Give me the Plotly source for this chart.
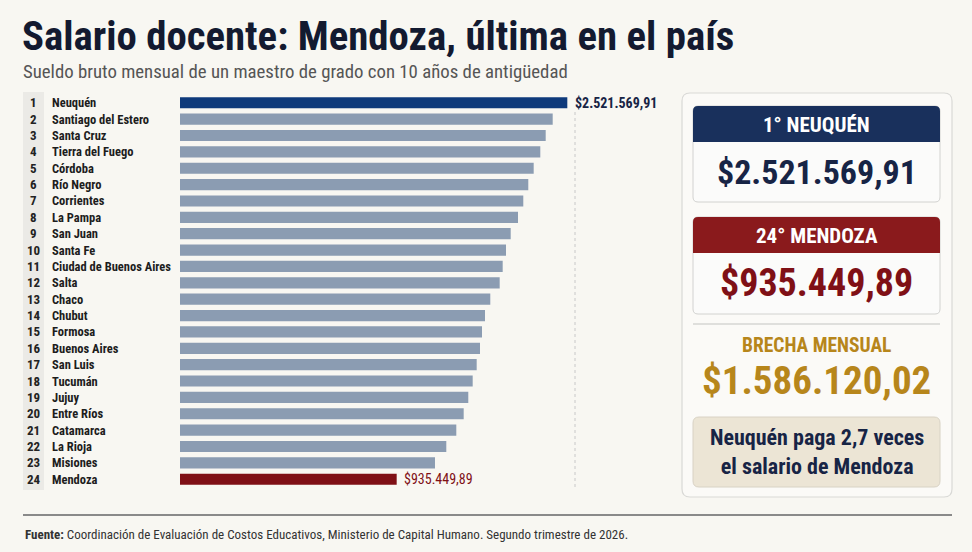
import plotly.graph_objects as go

# ---------------- data ----------------
ranks = list(range(1, 25))
provinces = ["Neuquén", "Santiago del Estero", "Santa Cruz", "Tierra del Fuego", "Córdoba",
             "Río Negro", "Corrientes", "La Pampa", "San Juan", "Santa Fe",
             "Ciudad de Buenos Aires", "Salta", "Chaco", "Chubut", "Formosa",
             "Buenos Aires", "San Luis", "Tucumán", "Jujuy", "Entre Ríos",
             "Catamarca", "La Rioja", "Misiones", "Mendoza"]
salaries = [2521569.91, 2385800, 2320700, 2270500, 2209100, 2158900, 2112400, 2063200,
            1995300, 1951600, 1920900, 1893000, 1805600, 1756400, 1728500, 1709900,
            1679200, 1642000, 1601100, 1558300, 1489600, 1396600, 1291500, 935449.89]
ratio_text = "2,7"

# ---------------- style ----------------
W, H = 972, 552
BG = "#f8f7f2"
NAVY = "#172445"
NAVY_BAR = "#0e3a7b"
GREY_BAR = "#8b9cb2"
RED = "#7f1016"
RED_HDR = "#8a1a1c"
NAVY_HDR = "#19305c"
GOLD = "#b7861b"
FONT = "Roboto Condensed"

X0, X1 = -1079000, 2593100  # axis range (left edge = bar base)


def fmt(v):
    s = f"{v:,.2f}"
    return "$" + s.replace(",", "X").replace(".", ",").replace("X", ".")


def px(x):
    return x / W


def py(y):
    return 1 - y / H


def rrect(x0, y0, x1, y1, r, top=True, bottom=True):
    rx, ry = r / W, r / H
    a0, b0, a1, b1 = px(x0), py(y0), px(x1), py(y1)
    rt = 1 if top else 0
    rb = 1 if bottom else 0
    p = f"M {a0 + rx*rt} {b0} L {a1 - rx*rt} {b0} Q {a1} {b0} {a1} {b0 - ry*rt} "
    p += f"L {a1} {b1 + ry*rb} Q {a1} {b1} {a1 - rx*rb} {b1} "
    p += f"L {a0 + rx*rb} {b1} Q {a0} {b1} {a0} {b1 + ry*rb} "
    p += f"L {a0} {b0 - ry*rt} Q {a0} {b0} {a0 + rx*rt} {b0} Z"
    return p


colors = [NAVY_BAR] + [GREY_BAR] * (len(salaries) - 2) + [RED]

fig = go.Figure()
fig.add_trace(go.Bar(
    y=provinces, x=[s - X0 for s in salaries], base=X0, orientation="h",
    marker=dict(color=colors, line=dict(width=0)), width=0.68,
    hoverinfo="skip", showlegend=False,
))

shapes = []
annotations = []

# rank column background
shapes.append(dict(type="rect", xref="paper", yref="paper", x0=px(23), x1=px(44),
                   y0=py(92), y1=py(490), fillcolor="#ebeae6", line=dict(width=0), layer="below"))
# dotted guide
shapes.append(dict(type="line", xref="paper", yref="paper", x0=px(575), x1=px(575),
                   y0=py(112), y1=py(488), line=dict(color="#c8c8c8", width=1, dash="dot")))

for r, p in zip(ranks, provinces):
    annotations.append(dict(x=px(33.5), y=p, xref="paper", yref="y", text=f"<b>{r}</b>",
                            showarrow=False, xanchor="center", yanchor="middle",
                            font=dict(family=FONT, size=13, color="#222222")))
    annotations.append(dict(x=px(50), y=p, xref="paper", yref="y", text=f"<b>{p}</b>",
                            showarrow=False, xanchor="left", yanchor="middle",
                            font=dict(family=FONT, size=12.5, color="#1d1d1d")))

# value labels
annotations.append(dict(x=salaries[0], y=provinces[0], xref="x", yref="y", text=f"<b>{fmt(salaries[0])}</b>",
                        showarrow=False, xanchor="left", yanchor="middle", xshift=6,
                        font=dict(family=FONT, size=14, color=NAVY)))
annotations.append(dict(x=salaries[-1], y=provinces[-1], xref="x", yref="y", text=fmt(salaries[-1]),
                        showarrow=False, xanchor="left", yanchor="middle", xshift=5,
                        font=dict(family=FONT, size=14, color=RED)))

# title, subtitle
annotations.append(dict(x=px(20), y=py(36), xref="paper", yref="paper",
                        text="<b>Salario docente: Mendoza, última en el país</b>", showarrow=False,
                        xanchor="left", yanchor="middle", font=dict(family=FONT, size=40.8, color="#131a30")))
annotations.append(dict(x=px(21), y=py(72), xref="paper", yref="paper",
                        text="Sueldo bruto mensual de un maestro de grado con 10 años de antigüedad",
                        showarrow=False, xanchor="left", yanchor="middle",
                        font=dict(family=FONT, size=18.8, color="#555555")))

# right panel
shapes.append(dict(type="path", xref="paper", yref="paper", path=rrect(682, 93, 952, 497, 8),
                   fillcolor="#fbfaf7", line=dict(color="#d9d9d6", width=1.2), layer="below"))
shapes.append(dict(type="path", xref="paper", yref="paper", path=rrect(693, 106, 940, 202, 5),
                   fillcolor="#fbfbfa", line=dict(color="#d2d2d0", width=1)))
shapes.append(dict(type="path", xref="paper", yref="paper", path=rrect(693, 106, 940, 142, 5, bottom=False),
                   fillcolor=NAVY_HDR, line=dict(width=0)))
shapes.append(dict(type="path", xref="paper", yref="paper", path=rrect(693, 217, 940, 314, 5),
                   fillcolor="#fbfbfa", line=dict(color="#d2d2d0", width=1)))
shapes.append(dict(type="path", xref="paper", yref="paper", path=rrect(693, 217, 940, 253, 5, bottom=False),
                   fillcolor=RED_HDR, line=dict(width=0)))
shapes.append(dict(type="line", xref="paper", yref="paper", x0=px(693), x1=px(940), y0=py(324), y1=py(324),
                   line=dict(color="#d6d6d3", width=1.5)))
shapes.append(dict(type="path", xref="paper", yref="paper", path=rrect(693, 417, 940, 487, 6),
                   fillcolor="#ece5d5", line=dict(color="#d8d2c4", width=1)))

cx = px(816.5)
panel_texts = [
    (125, f"<b>1° {provinces[0].upper()}</b>", 21, "#ffffff"),
    (172, f"<b>{fmt(salaries[0])}</b>", 34, NAVY),
    (236, f"<b>{ranks[-1]}° {provinces[-1].upper()}</b>", 21, "#ffffff"),
    (283, f"<b>{fmt(salaries[-1])}</b>", 38, RED),
    (345, "<b>BRECHA MENSUAL</b>", 19.5, GOLD),
    (381, f"<b>{fmt(salaries[0] - salaries[-1])}</b>", 39, GOLD),
    (452, f"<b>{provinces[0]} paga {ratio_text} veces<br>el salario de {provinces[-1]}</b>", 22, NAVY),
]
for y, t, s, c in panel_texts:
    annotations.append(dict(x=cx, y=py(y), xref="paper", yref="paper", text=t, showarrow=False,
                            xanchor="center", yanchor="middle", font=dict(family=FONT, size=s, color=c)))

# footer
shapes.append(dict(type="line", xref="paper", yref="paper", x0=px(23), x1=px(952), y0=py(515), y1=py(515),
                   line=dict(color="#8a8a8a", width=2)))
annotations.append(dict(x=px(23), y=py(534), xref="paper", yref="paper",
                        text="<b>Fuente:</b> Coordinación de Evaluación de Costos Educativos, Ministerio de Capital Humano. Segundo trimestre de 2026.",
                        showarrow=False, xanchor="left", yanchor="middle",
                        font=dict(family=FONT, size=13, color="#333333")))

fig.update_layout(
    width=W, height=H, margin=dict(l=0, r=0, t=0, b=0),
    paper_bgcolor=BG, plot_bgcolor="rgba(0,0,0,0)",
    xaxis=dict(domain=[px(180), px(575)], range=[X0, X1], visible=False, fixedrange=True),
    yaxis=dict(domain=[py(489.3), py(92.7)], type="category", categoryorder="array",
               categoryarray=provinces, autorange="reversed", visible=False, fixedrange=True),
    shapes=shapes, annotations=annotations,
)

fig.write_html("out.html", config={"displayModeBar": False},
               post_script="document.body.style.margin='0';")
